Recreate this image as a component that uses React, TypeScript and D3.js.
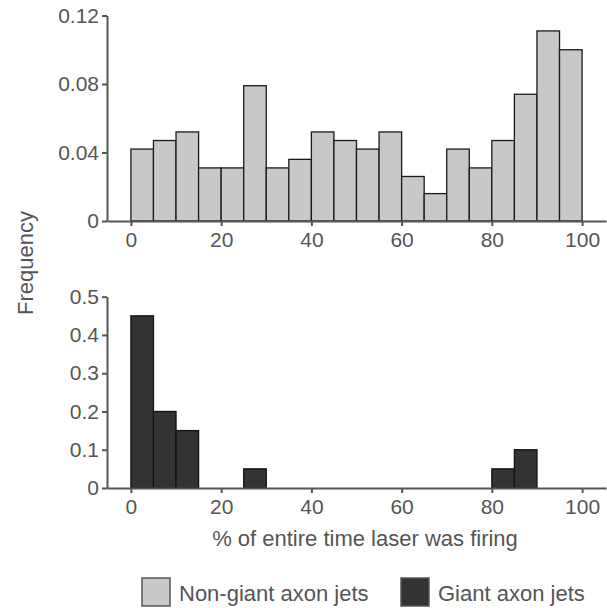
import React, { useEffect, useRef } from 'react';
import * as d3 from 'd3';

const binStarts = [0, 5, 10, 15, 20, 25, 30, 35, 40, 45, 50, 55, 60, 65, 70, 75, 80, 85, 90, 95];
const binWidth = 5;

// frequency of non-giant axon jets per bin
const nonGiantFreq = [0.042, 0.047, 0.052, 0.031, 0.031, 0.079, 0.031, 0.036, 0.052, 0.047,
    0.042, 0.052, 0.026, 0.016, 0.042, 0.031, 0.047, 0.074, 0.111, 0.100];

// frequency of giant axon jets per bin
const giantFreq = [0.45, 0.2, 0.15, 0, 0, 0.05, 0, 0, 0, 0,
    0, 0, 0, 0, 0, 0, 0.05, 0.1, 0, 0];

const xTicks = [0, 20, 40, 60, 80, 100];
const topYTicks = [0, 0.04, 0.08, 0.12];
const bottomYTicks = [0, 0.1, 0.2, 0.3, 0.4, 0.5];

const legendItems = [
    { label: 'Non-giant axon jets', fill: '#c8c8c8' },
    { label: 'Giant axon jets', fill: '#333333' },
];

const FONT = '"Liberation Sans", Arial, Helvetica, sans-serif';
const TEXT_COLOR = '#555555';

export default function App() {
    const ref = useRef<SVGSVGElement>(null);

    useEffect(() => {
        const svg = d3.select(ref.current);
        svg.selectAll('*').remove();

        const xScale = d3.scaleLinear().domain([-5.3, 105.3]).range([107, 606]);

        const drawPanel = (values: number[], yScale: d3.ScaleLinear<number, number>, yTicks: number[], fill: string, stroke: string) => {
            const g = svg.append('g');
            const y0 = yScale(0);

            g.selectAll('rect.bar')
                .data(binStarts.map((b, i) => ({ b, v: values[i] })).filter(d => d.v > 0))
                .enter()
                .append('rect')
                .attr('class', 'bar')
                .attr('x', d => xScale(d.b))
                .attr('width', d => xScale(d.b + binWidth) - xScale(d.b))
                .attr('y', d => yScale(d.v))
                .attr('height', d => y0 - yScale(d.v))
                .attr('fill', fill)
                .attr('stroke', stroke)
                .attr('stroke-width', 1.3);

            const xAxis = g.append('g')
                .attr('transform', `translate(0, ${y0})`)
                .call(d3.axisBottom(xScale).tickValues(xTicks).tickSize(5).tickSizeOuter(0).tickPadding(6).tickFormat(d => String(d)));

            const yAxis = g.append('g')
                .attr('transform', `translate(107, 0)`)
                .call(d3.axisLeft(yScale).tickValues(yTicks).tickSize(5).tickSizeOuter(0).tickPadding(3).tickFormat(d => String(d)));

            [xAxis, yAxis].forEach(ax => {
                ax.select('.domain').attr('stroke', TEXT_COLOR).attr('stroke-width', 2);
                ax.selectAll('.tick line').attr('stroke', TEXT_COLOR).attr('stroke-width', 2);
                ax.selectAll('.tick text')
                    .attr('fill', TEXT_COLOR)
                    .style('font-family', FONT)
                    .style('font-size', '21px');
            });
        };

        const topY = d3.scaleLinear().domain([0, 0.12]).range([221, 15.5]);
        const bottomY = d3.scaleLinear().domain([0, 0.5]).range([488, 296.7]);

        drawPanel(nonGiantFreq, topY, topYTicks, '#c8c8c8', '#1a1a1a');
        drawPanel(giantFreq, bottomY, bottomYTicks, '#333333', '#111111');

        // axis titles
        svg.append('text')
            .attr('transform', 'translate(33, 263) rotate(-90)')
            .attr('text-anchor', 'middle')
            .attr('fill', TEXT_COLOR)
            .style('font-family', FONT)
            .style('font-size', '22px')
            .text('Frequency');

        svg.append('text')
            .attr('x', 365)
            .attr('y', 546)
            .attr('text-anchor', 'middle')
            .attr('fill', TEXT_COLOR)
            .style('font-family', FONT)
            .style('font-size', '22px')
            .text('% of entire time laser was firing');

        // legend
        const legendX = [142, 401];
        const legend = svg.append('g');
        legendItems.forEach((item, i) => {
            legend.append('rect')
                .attr('x', legendX[i])
                .attr('y', 578)
                .attr('width', 28)
                .attr('height', 28)
                .attr('fill', item.fill)
                .attr('stroke', TEXT_COLOR)
                .attr('stroke-width', 1.5);
            legend.append('text')
                .attr('x', legendX[i] + 37)
                .attr('y', 601)
                .attr('fill', TEXT_COLOR)
                .style('font-family', FONT)
                .style('font-size', '22px')
                .text(item.label);
        });
    }, []);

    return (
        <svg ref={ref} width={607} height={608} style={{ position: 'absolute', left: 0, top: 0, background: '#fff' }}></svg>
    );
}
